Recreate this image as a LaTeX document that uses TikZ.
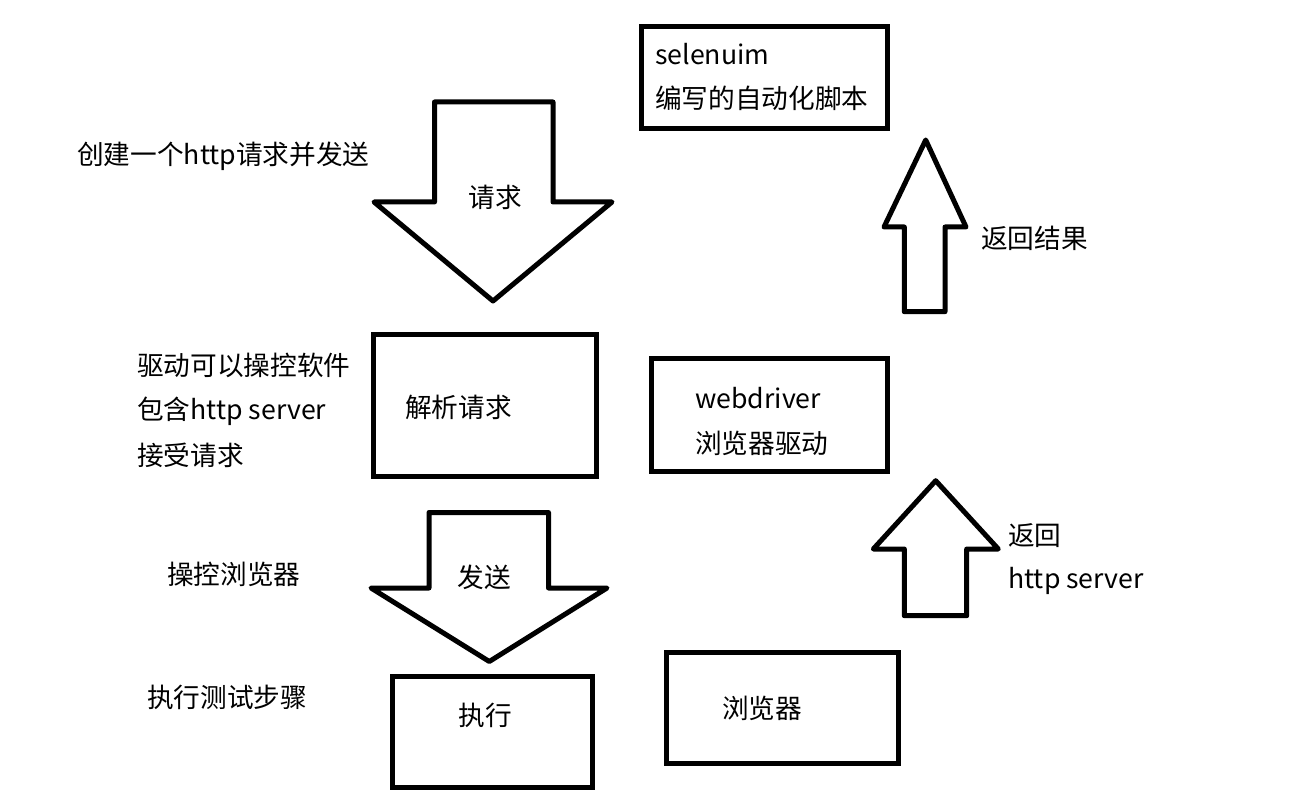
\documentclass[tikz,border=0pt]{standalone}
\usepackage{fontspec}
\setmainfont{Noto Sans CJK SC}
\begin{document}
\begin{tikzpicture}[x=0.75pt,y=-0.75pt,
  box/.style={draw=black,line width=3.75pt,fill=white,inner sep=0pt},
  blockarrow/.style={draw=black,line width=3.75pt,line join=round,fill=white},
  lbl/.style={anchor=base west,inner sep=0pt,font=\fontsize{20pt}{24pt}\selectfont},
  clbl/.style={anchor=base,inner sep=0pt,font=\fontsize{20pt}{24pt}\selectfont}]
\useasboundingbox[fill=white] (0,0) rectangle (1305,805);
% boxes
\node[box,minimum width=246.5*0.75pt,minimum height=102*0.75pt] (sel) at (764.25,77.5) {};
\node[box,minimum width=223*0.75pt,minimum height=142*0.75pt] (parse) at (485,405.5) {};
\node[box,minimum width=236*0.75pt,minimum height=113*0.75pt] (wd) at (769.5,415) {};
\node[box,minimum width=200*0.75pt,minimum height=111*0.75pt] (exec) at (492.5,732) {};
\node[box,minimum width=232*0.75pt,minimum height=110.5*0.75pt] (brw) at (782.5,707.75) {};
% block arrows
\draw[blockarrow] (434.5,102) -- (553,102) -- (553,202) -- (612,202) -- (493,301) -- (374,202) -- (434.5,202) -- cycle;
\draw[blockarrow] (429,512.5) -- (548.5,512.5) -- (548.5,588) -- (607,588) -- (489.3,661.5) -- (371,588) -- (429,588) -- cycle;
\draw[blockarrow] (904.3,311.7) -- (904.3,227) -- (884,227) -- (925.7,140) -- (966,227) -- (945,227) -- (945,311.7) -- cycle;
\draw[blockarrow] (904.3,615.7) -- (904.3,549) -- (873.3,549) -- (935.7,480.7) -- (998.3,549) -- (966.7,549) -- (966.7,615.7) -- cycle;
% texts
\node[lbl] (t1) at (655,65) {selenuim};
\node[lbl] (t2) at (655,109) {编写的自动化脚本};
\node[lbl] (t3) at (77,165) {创建一个http请求并发送};
\node[clbl] (t4) at (495,208) {请求};
\node[lbl] (t5) at (405,417) {解析请求};
\node[lbl] (t6) at (137,375) {驱动可以操控软件};
\node[lbl] (t7) at (137,419) {包含http server};
\node[lbl] (t8) at (137,465) {接受请求};
\node[lbl] (t9) at (695,408) {webdriver};
\node[lbl] (t10) at (695,453) {浏览器驱动};
\node[lbl] (t11) at (981,249) {返回结果};
\node[lbl] (t12) at (167,584) {操控浏览器};
\node[clbl] (t13) at (484,587) {发送};
\node[lbl] (t14) at (1008,545) {返回};
\node[lbl] (t15) at (1008,588) {http server};
\node[clbl] (t16) at (485,725) {执行};
\node[lbl] (t17) at (722,718) {浏览器};
\node[lbl] (t18) at (147,707) {执行测试步骤};
\end{tikzpicture}
\end{document}
